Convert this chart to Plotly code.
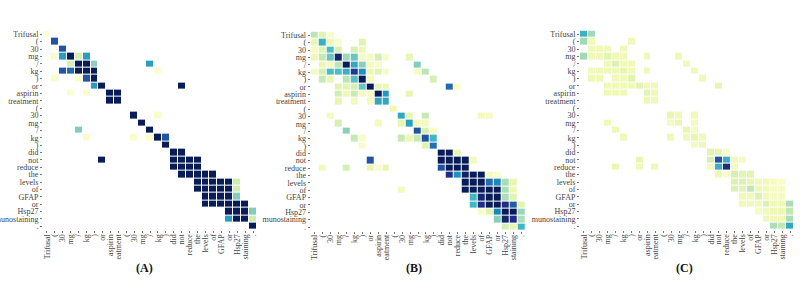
import plotly.graph_objects as go

y_tokens = ["Trifusal", "(", "30", "mg", "/", "kg", ")", "or", "aspirin", "treatment", "(", "30", "mg", "/", "kg", ")",
            "did", "not", "reduce", "the", "levels", "of", "GFAP", "or", "Hsp27", "munostaining", "."]
x_tokens = ["Trifusal", "(", "30", "mg", "/", "kg", ")", "or", "aspirin", "eatment", "(", "30", "mg", "/", "kg", ")",
            "did", "not", "reduce", "the", "levels", "of", "GFAP", "or", "Hsp27", "staining", "."]

# row index -> {column index: value}
attention_a = {
    0: {0: .02}, 1: {1: .78}, 2: {2: .78},
    3: {1: .04, 2: .58, 3: 1, 4: .2, 5: .58},
    4: {3: .2, 4: 1, 5: 1, 6: .36, 13: .58},
    5: {2: .78, 3: .72, 4: 1, 5: 1, 6: 1, 14: .03},
    6: {1: .04, 4: .04, 5: .78, 6: 1},
    7: {6: .58, 7: 1, 17: 1},
    8: {3: .04, 5: .04, 8: 1, 9: 1}, 9: {8: 1, 9: 1},
    11: {11: 1, 14: .04}, 12: {12: 1},
    13: {4: .37, 13: 1},
    14: {5: .04, 11: .04, 13: .04, 14: 1, 15: .78},
    15: {15: 1}, 16: {16: 1, 17: 1},
    17: {7: 1, 16: 1, 17: 1, 18: 1, 19: 1},
    18: {16: 1, 17: 1, 18: 1, 19: 1},
    19: {17: 1, 18: 1, 19: 1, 20: 1, 21: 1},
    20: {19: 1, 20: 1, 21: 1, 22: 1, 23: 1, 24: .22},
    21: {19: 1, 20: 1, 21: 1, 22: 1, 23: 1, 24: .22},
    22: {20: 1, 21: 1, 22: 1, 23: 1, 24: .37},
    23: {20: 1, 21: 1, 22: 1, 23: 1, 24: 1, 25: 1},
    24: {23: 1, 24: 1, 25: 1, 26: .37},
    25: {23: .58, 24: 1, 25: 1, 26: .22},
    26: {26: 1},
}
attention_b = {
    0: {0: .27, 1: .17, 2: .05},
    1: {0: .13, 1: .52, 2: .12, 3: .04, 6: .16},
    2: {0: .08, 1: .17, 2: .47, 3: .2, 5: .2, 6: .12},
    3: {0: .12, 1: .25, 2: .42, 3: .95, 4: .32, 5: .42, 6: .08, 7: .08, 8: .2, 9: .05, 12: .14},
    4: {1: .12, 2: .09, 3: .27, 4: 1, 5: .55, 6: .36, 7: .08, 8: .05, 13: .37},
    5: {0: .08, 1: .2, 2: .47, 3: .47, 4: .52, 5: .87, 6: .62, 7: .12, 8: .16, 9: .06, 13: .06, 14: .27},
    6: {1: .25, 2: .14, 4: .27, 5: .45, 6: 1, 7: .09, 15: .2},
    7: {3: .16, 4: .16, 5: .2, 6: .42, 7: 1, 8: .14, 9: .12, 17: .72, 18: .05},
    8: {3: .22, 4: .12, 5: .24, 6: .08, 7: .08, 8: 1, 9: .6, 12: .14},
    9: {3: .14, 5: .09, 7: .08, 8: .55, 9: .55},
    10: {10: .12},
    11: {2: .09, 11: .55, 12: .14, 14: .25, 21: .09, 22: .08},
    12: {3: .2, 8: .09, 11: .14, 12: .57, 13: .08, 14: .09},
    13: {4: .36, 13: .78, 14: .2, 15: .06},
    14: {5: .25, 6: .05, 11: .25, 12: .12, 13: .25, 14: .78, 15: .5},
    15: {6: .05, 14: .16, 15: .7},
    16: {16: 1, 17: 1, 18: .14},
    17: {7: .78, 16: 1, 17: 1, 18: 1, 19: 1, 20: .08},
    18: {1: .09, 4: .2, 7: .14, 8: .05, 9: .14, 16: .8, 17: 1, 18: 1, 19: 1},
    19: {17: .9, 18: .62, 19: .97, 20: 1, 21: 1, 22: .08, 23: .04},
    20: {19: 1, 20: 1, 21: 1, 22: .7, 23: .65, 24: .3, 25: .14},
    21: {11: .09, 19: 1, 20: 1, 21: 1, 22: 1, 23: 1, 24: .3, 25: .12},
    22: {20: .5, 21: .95, 22: 1, 23: 1, 24: .3, 25: .16},
    23: {20: .5, 21: .9, 22: 1, 23: 1, 24: .9, 25: .75, 26: .16},
    24: {21: .05, 22: .16, 23: .65, 24: 1, 25: 1, 26: .33},
    25: {23: .36, 24: .95, 25: .9, 26: .3},
    26: {24: .2, 25: .14, 26: .5},
}
attention_c = {
    0: {0: .52, 1: .32},
    1: {0: .32, 1: .1, 6: .1},
    2: {1: .1, 2: .1, 3: .1, 5: .1},
    3: {0: .32, 1: .1, 2: .1, 3: .16, 4: .1, 5: .1, 8: .1, 12: .1},
    4: {3: .1, 4: .18, 5: .1, 6: .1, 13: .1},
    5: {1: .1, 2: .1, 3: .11, 4: .11, 5: .14, 6: .1, 8: .1, 14: .1},
    6: {1: .11, 2: .11, 4: .1, 5: .1, 6: .16, 15: .1},
    7: {3: .1, 4: .1, 5: .1, 6: .1, 7: .16, 8: .1, 9: .1, 17: .14},
    8: {3: .11, 4: .1, 5: .1, 8: .16, 9: .11},
    9: {8: .11, 9: .1},
    11: {11: .13, 12: .1, 14: .1},
    12: {3: .1, 11: .08, 12: .13, 14: .08},
    13: {4: .11, 13: .14, 14: .08},
    14: {5: .1, 11: .1, 13: .1, 14: .14, 15: .1},
    15: {14: .08, 15: .11},
    16: {16: .16, 17: .14, 18: .05},
    17: {7: .13, 16: .2, 17: .78, 18: .52, 19: .1, 20: .07},
    18: {4: .13, 7: .1, 9: .11, 16: .08, 17: .52, 18: .92, 19: .08},
    19: {17: .11, 18: .05, 19: .2, 20: .16, 21: .16},
    20: {19: .18, 20: .18, 21: .14, 22: .1, 23: .1, 24: .07, 25: .05},
    21: {19: .18, 20: .16, 21: .26, 22: .11, 23: .1, 24: .07, 25: .07},
    22: {20: .1, 21: .1, 22: .18, 23: .1, 24: .07, 25: .07},
    23: {20: .1, 21: .1, 22: .1, 23: .18, 24: .1, 25: .1, 26: .3},
    24: {22: .07, 23: .1, 24: .12, 25: .12, 26: .26},
    25: {23: .1, 24: .1, 25: .1, 26: .3},
    26: {24: .3, 25: .26, 26: .55},
}
panel_titles = ["(A)", "(B)", "(C)"]

W, H = 800, 282
FONT = "Liberation Serif"
panels = [
    (attention_a, 43.0, 257.0, 30.6, 230.0, 144),
    (attention_b, 310.7, 525.3, 31.6, 230.7, 414),
    (attention_c, 580.0, 794.3, 30.6, 230.0, 684),
]

def to_matrix(rows):
    n = len(y_tokens)
    return [[rows.get(r, {}).get(c) for c in range(n)] for r in range(n)]

fig = go.Figure()
annotations = []
for i, (rows, x0, x1, y0, y1, tx) in enumerate(panels):
    s = "" if i == 0 else str(i + 1)
    fig.add_trace(go.Heatmap(
        z=to_matrix(rows), x=list(range(27)), y=list(range(27)),
        colorscale="YlGnBu", reversescale=False, zmin=0, zmax=1, showscale=False,
        xgap=1, ygap=1, hoverongaps=False, xaxis="x" + s, yaxis="y" + s))
    common = dict(tickmode="array", tickvals=list(range(27)), ticks="outside", ticklen=2,
                  tickwidth=1, tickcolor="#777", showgrid=False, zeroline=False, showline=False,
                  tickfont=dict(family=FONT, size=8, color="#444"), automargin=False)
    fig.layout["xaxis" + s] = dict(common, ticktext=x_tokens, tickangle=-90, ticklabelstandoff=-2,
                                   domain=[x0 / W, x1 / W], anchor="y" + s, range=[-0.5, 26.5])
    fig.layout["yaxis" + s] = dict(common, ticktext=y_tokens,
                                   domain=[1 - y1 / H, 1 - y0 / H], anchor="x" + s, range=[26.5, -0.5])
    annotations.append(dict(text=f"<b>{panel_titles[i]}</b>", x=tx / W, y=1 - 268 / H,
                            xref="paper", yref="paper", showarrow=False,
                            xanchor="center", yanchor="middle",
                            font=dict(family=FONT, size=12, color="#111")))

fig.update_layout(width=W, height=H, margin=dict(l=0, r=0, t=0, b=0),
                  paper_bgcolor="white", plot_bgcolor="white", annotations=annotations)
fig.write_html("out.html", config={"displayModeBar": False},
               post_script="document.body.style.margin='0';")
